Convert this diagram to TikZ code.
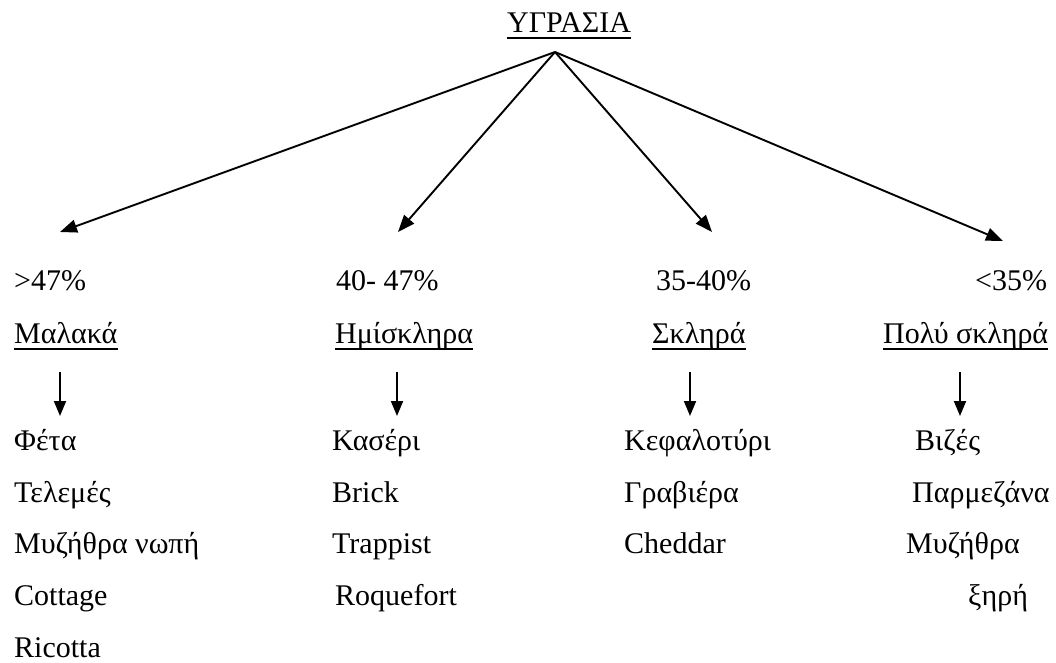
\documentclass[tikz,border=0pt]{standalone}
\usepackage{fontspec}
\setmainfont{Liberation Serif}
\usetikzlibrary{arrows.meta}
\begin{document}
\begin{tikzpicture}[x=1pt,y=-1pt,
  txt/.style={anchor=base west,inner sep=0pt,font=\fontsize{30}{36}\selectfont},
  arr/.style={line width=1.9pt,-{Triangle[length=17pt,width=13pt]}},
  ul/.style={line width=1.8pt}]
\useasboundingbox (0,0) rectangle (1056,663);

% title
\node[txt] (top) at (507,33) {ΥΓΡΑΣΙΑ};
\draw[ul] ([yshift=-5pt]top.base west) -- ([yshift=-5pt]top.base east);
\coordinate (apex) at (555,52);

% moisture ranges
\node[txt] (p1) at (14,290) {>47\%};
\node[txt] (p2) at (336,290) {40- 47\%};
\node[txt] (p3) at (656,290) {35-40\%};
\node[txt] (p4) at (975,290) {<35\%};

% main arrows
\coordinate (e1) at (60,232);
\coordinate (e2) at (398,232);
\coordinate (e3) at (712,232);
\coordinate (e4) at (1003,241);
\foreach \e in {e1,e2,e3,e4} \draw[arr] (apex) -- (\e);

% categories
\node[txt] (c1) at (14,343) {Μαλακά};
\node[txt] (c2) at (335,343) {Ημίσκληρα};
\node[txt] (c3) at (652,343) {Σκληρά};
\node[txt] (c4) at (883,343) {Πολύ σκληρά};
\foreach \c in {c1,c2,c3,c4}
  \draw[ul] ([yshift=-6pt]\c.base west) -- ([yshift=-6pt]\c.base east);

% column 1
\node[txt] (a1) at (14,450) {Φέτα};
\node[txt] (a2) at (14,502) {Τελεμές};
\node[txt] (a3) at (14,553) {Μυζήθρα νωπή};
\node[txt] (a4) at (14,605) {Cottage};
\node[txt] (a5) at (14,657) {Ricotta};

% column 2
\node[txt] (b1) at (332,450) {Κασέρι};
\node[txt] (b2) at (332,502) {Brick};
\node[txt] (b3) at (332,553) {Trappist};
\node[txt] (b4) at (335,605) {Roquefort};

% column 3
\node[txt] (d1) at (624,450) {Κεφαλοτύρι};
\node[txt] (d2) at (624,502) {Γραβιέρα};
\node[txt] (d3) at (624,553) {Cheddar};

% column 4
\node[txt] (f1) at (915,450) {Βιζές};
\node[txt] (f2) at (912,502) {Παρμεζάνα};
\node[txt] (f3) at (906,553) {Μυζήθρα};
\node[txt] (f4) at (968,605) {ξηρή};

% short arrows
\coordinate (s1) at (60,372);
\coordinate (s2) at (397,372);
\coordinate (s3) at (690,372);
\coordinate (s4) at (960,372);
\coordinate (t1) at (60,416);
\coordinate (t2) at (397,416);
\coordinate (t3) at (690,416);
\coordinate (t4) at (960,416);
\foreach \i in {1,2,3,4}
  \draw[line width=1.9pt,-{Triangle[length=15pt,width=12pt]}] (s\i) -- (t\i);
\end{tikzpicture}
\end{document}
